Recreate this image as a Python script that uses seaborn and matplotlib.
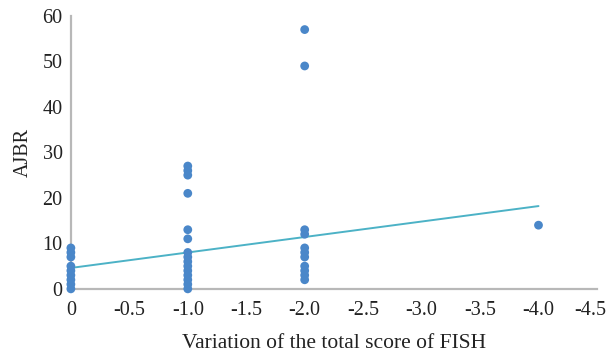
import numpy as np
import pandas as pd
import seaborn as sns
import matplotlib.pyplot as plt
import matplotlib.transforms as mtransforms

# FISH score change vs AJBR
fish_0 = [0, 0, 0, 0, 0, 0, 0, 0, 0]
ajbr_0 = [9, 8, 7, 5, 4, 3, 2, 1, 0]
fish_1 = [-1.0] * 15
ajbr_1 = [27, 26, 25, 21, 13, 11, 8, 7, 6, 5, 4, 3, 2, 1, 0]
fish_2 = [-2.0] * 11
ajbr_2 = [57, 49, 13, 12, 9, 8, 7, 5, 4, 3, 2]
fish_4 = [-4.0]
ajbr_4 = [14]

x_ticks = [0, -0.5, -1.0, -1.5, -2.0, -2.5, -3.0, -3.5, -4.0, -4.5]
x_tick_labels = ["0", "-0.5", "-1.0", "-1.5", "-2.0", "-2.5", "-3.0", "-3.5", "-4.0", "-4.5"]
y_ticks = [0, 10, 20, 30, 40, 50, 60]

# trend line as drawn in the source (intercept, slope)
fit_intercept = 4.6
fit_slope = -3.4
fit_x = [0, -4.0]

df = pd.DataFrame({
    "fish": fish_0 + fish_1 + fish_2 + fish_4,
    "ajbr": ajbr_0 + ajbr_1 + ajbr_2 + ajbr_4,
})
fit_df = pd.DataFrame({"fish": fit_x})
fit_df["ajbr"] = fit_intercept + fit_slope * fit_df["fish"]

sns.set_style("white")
plt.rcParams["font.family"] = ["Liberation Serif", "DejaVu Serif"]

fig = plt.figure(figsize=(6.11, 3.54), dpi=100)
ax = fig.add_axes([0.116, 0.184, 0.861, 0.771])

sns.lineplot(data=fit_df, x="fish", y="ajbr", color="#4cb2c6", linewidth=1.4, ax=ax, zorder=2)
sns.scatterplot(data=df, x="fish", y="ajbr", color="#4a87c9", s=40, edgecolor="none",
                ax=ax, zorder=3, clip_on=False)

ax.set_xlim(0, -4.5)
ax.set_ylim(0, 60)
ax.set_xticks(x_ticks)
ax.set_xticklabels(x_tick_labels)
ax.set_yticks(y_ticks)
ax.tick_params(direction="in", length=3, width=1, color="#b0b0b0", labelsize=14.5, labelcolor="#222222")
ax.tick_params(axis="x", pad=9)
ax.tick_params(axis="y", pad=6)
for side in ["top", "right"]:
    ax.spines[side].set_visible(False)
for side in ["left", "bottom"]:
    ax.spines[side].set_color("#b8b8b8")
    ax.spines[side].set_linewidth(1.6)

# nudge the last x label left so it stays inside the figure
last = ax.get_xticklabels()[-1]
last.set_transform(last.get_transform() + mtransforms.ScaledTranslation(-0.07, 0, fig.dpi_scale_trans))

ax.set_xlabel("Variation of the total score of FISH", fontsize=15.5, labelpad=10, color="#222222")
ax.set_ylabel("AJBR", fontsize=14.5, labelpad=7, color="#222222")

plt.savefig("out.png", dpi=100)
plt.close()
